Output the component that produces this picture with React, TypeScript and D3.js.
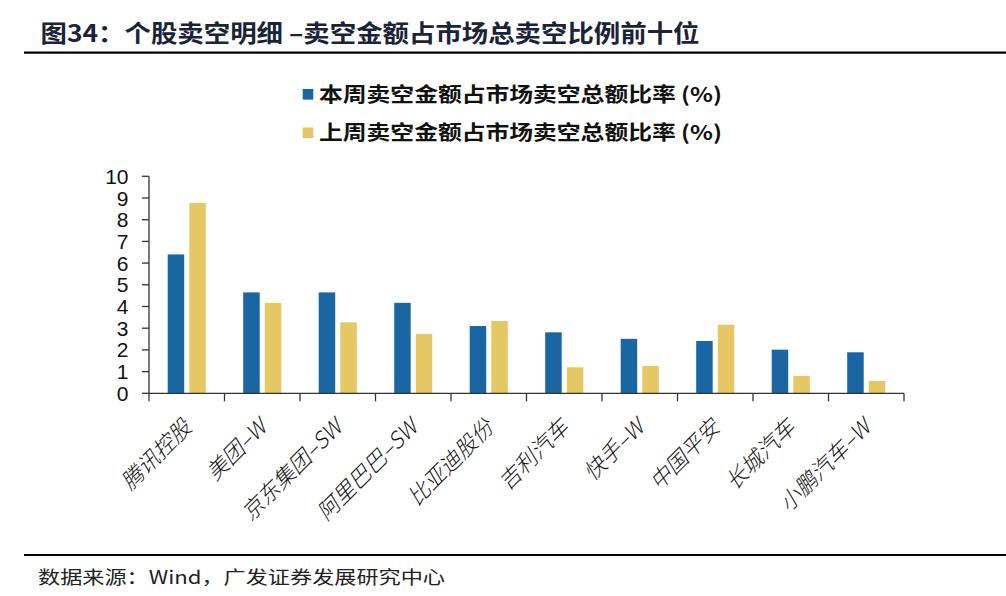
import React from "react";
import * as d3 from "d3";

const categories = ["腾讯控股", "美团–W", "京东集团–SW", "阿里巴巴–SW", "比亚迪股份", "吉利汽车", "快手–W", "中国平安", "长城汽车", "小鹏汽车–W"];
const thisWeek = [6.4, 4.65, 4.65, 4.17, 3.1, 2.81, 2.51, 2.41, 2.01, 1.89];
const lastWeek = [8.77, 4.17, 3.27, 2.74, 3.33, 1.2, 1.26, 3.16, 0.8, 0.57];
const yTicks = [0, 1, 2, 3, 4, 5, 6, 7, 8, 9, 10];
const seriesNames = ["本周卖空金额占市场卖空总额比率 (%)", "上周卖空金额占市场卖空总额比率 (%)"];
const titleText = "图34：个股卖空明细 –卖空金额占市场总卖空比例前十位";
const sourceText = "数据来源：Wind，广发证券发展研究中心";

const BLUE = "#1A66A3";
const YELLOW = "#E5C864";

export default function App() {
  const W = 1006, H = 596;
  const x0 = 149, x1 = 904, yTop = 176.3, yBot = 393.3;
  const x = d3.scaleBand<string>().domain(categories).range([x0, x1]).paddingInner(0).paddingOuter(0);
  const y = d3.scaleLinear().domain([0, 10]).range([yBot, yTop]);
  const bw = 16.5;
  const off = 10.8;
  const cjk = '"Noto Sans CJK SC", "Noto Sans", sans-serif';
  const boundaries = categories.map((c) => x(c)!).concat([x1]);

  return (
    <div style={{ position: "absolute", left: 0, top: 0 }}>
      <svg width={W} height={H} viewBox={`0 0 ${W} ${H}`} style={{ display: "block", background: "#fff" }}>
        {/* title */}
        <text x={40.5} y={42} fontFamily={cjk} fontWeight={700} fontSize={24} fill="#1a2338"
          textLength={659} lengthAdjust="spacingAndGlyphs">{titleText}</text>
        <line x1={24} x2={W} y1={52.7} y2={52.7} stroke="#000" strokeWidth={2.2} />

        {/* legend */}
        {seriesNames.map((s, i) => (
          <g key={s}>
            <rect x={302.7} y={89 + i * 38.5} width={10.6} height={10.6} fill={i === 0 ? BLUE : YELLOW} />
            <text x={319} y={101.5 + i * 38.5} fontFamily={cjk} fontWeight={600} fontSize={20} fill="#111"
              textLength={403} lengthAdjust="spacingAndGlyphs">{s}</text>
          </g>
        ))}

        {/* bars */}
        {categories.map((c, i) => {
          const cx = x(c)! + x.bandwidth() / 2;
          return (
            <g key={c}>
              <rect x={cx - off - bw / 2} y={y(thisWeek[i])} width={bw} height={yBot - y(thisWeek[i])} fill={BLUE} />
              <rect x={cx + off - bw / 2} y={y(lastWeek[i])} width={bw} height={yBot - y(lastWeek[i])} fill={YELLOW} />
            </g>
          );
        })}

        {/* y axis */}
        <line x1={x0} x2={x0} y1={yTop} y2={yBot} stroke="#333" strokeWidth={1.3} />
        {yTicks.map((t) => (
          <g key={t}>
            <line x1={x0 - 7} x2={x0} y1={y(t)} y2={y(t)} stroke="#333" strokeWidth={1.3} />
            <text x={128.5} y={y(t)} dy="0.36em" textAnchor="end" fontFamily='"Liberation Sans", Arial, sans-serif'
              fontSize={21} fill="#111">{t}</text>
          </g>
        ))}

        {/* x axis */}
        <line x1={x0} x2={x1} y1={yBot} y2={yBot} stroke="#333" strokeWidth={1.3} />
        {boundaries.map((b, i) => (
          <line key={i} x1={b} x2={b} y1={yBot} y2={yBot + 8} stroke="#333" strokeWidth={1.3} />
        ))}
        {categories.map((c) => {
          const cx = x(c)! + x.bandwidth() / 2;
          const ax = cx + 6, ay = 429;
          return (
            <text key={c} x={ax} y={ay} textAnchor="end" transform={`rotate(-45 ${ax} ${ay})`}
              fontFamily={cjk} fontWeight={300} fontStyle="italic" fontSize={22} fill="#111">{c}</text>
          );
        })}

        {/* footer */}
        <line x1={24} x2={W} y1={555} y2={555} stroke="#000" strokeWidth={2} />
        <text x={38} y={584} fontFamily={cjk} fontSize={18} fill="#222"
          textLength={407} lengthAdjust="spacingAndGlyphs">{sourceText}</text>
      </svg>
    </div>
  );
}
